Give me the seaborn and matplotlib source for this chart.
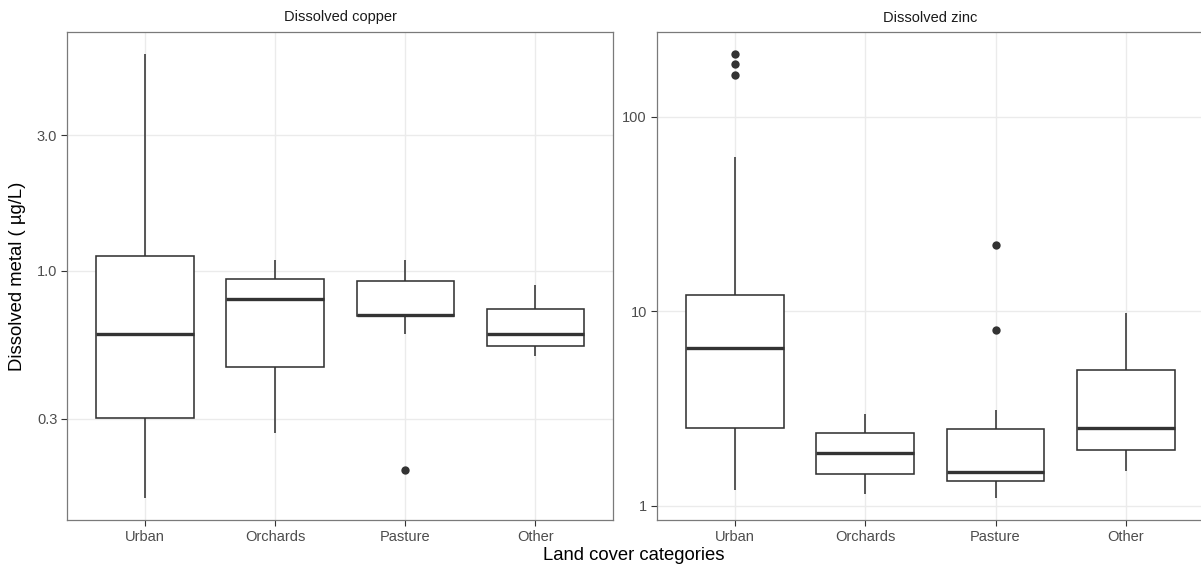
import numpy as np
import pandas as pd
import matplotlib
matplotlib.use("Agg")
import matplotlib.pyplot as plt
import seaborn as sns

# ---- data ----
categories = ["Urban", "Orchards", "Pasture", "Other"]

# five-number summaries: whisker low, Q1, median, Q3, whisker high
copper_low = [0.158, 0.267, 0.600, 0.498]
copper_q1 = [0.302, 0.459, 0.690, 0.544]
copper_med = [0.600, 0.797, 0.697, 0.598]
copper_q3 = [1.13, 0.935, 0.920, 0.730]
copper_high = [5.80, 1.09, 1.09, 0.893]
copper_out_cat = ["Pasture"]
copper_out_val = [0.198]

zinc_low = [1.20, 1.15, 1.10, 1.51]
zinc_q1 = [2.52, 1.46, 1.35, 1.93]
zinc_med = [6.44, 1.86, 1.50, 2.51]
zinc_q3 = [12.1, 2.37, 2.48, 4.96]
zinc_high = [61.8, 2.98, 3.09, 9.77]
zinc_out_cat = ["Urban", "Urban", "Urban", "Pasture", "Pasture"]
zinc_out_val = [209.0, 186.0, 164.0, 22.0, 8.03]

panel_titles = ["Dissolved copper", "Dissolved zinc"]
copper_ticks = [0.3, 1.0, 3.0]
copper_ticklabels = ["0.3", "1.0", "3.0"]
zinc_ticks = [1, 10, 100]
zinc_ticklabels = ["1", "10", "100"]
x_title = "Land cover categories"
y_title = "Dissolved metal ( \u00b5g/L)"


def long_table(low, q1, med, q3, high):
    rows = []
    for c, a, b, m, d, e in zip(categories, low, q1, med, q3, high):
        for v in (a, b, m, d, e):
            rows.append({"cat": c, "val": v})
    return pd.DataFrame(rows)


copper_df = long_table(copper_low, copper_q1, copper_med, copper_q3, copper_high)
zinc_df = long_table(zinc_low, zinc_q1, zinc_med, zinc_q3, zinc_high)
copper_out = pd.DataFrame({"cat": copper_out_cat, "val": copper_out_val})
zinc_out = pd.DataFrame({"cat": zinc_out_cat, "val": zinc_out_val})

# ---- style ----
sns.set_theme(style="white")
plt.rcParams["font.family"] = ["Liberation Sans", "DejaVu Sans"]

W, H = 1201, 567
fig = plt.figure(figsize=(W / 100, H / 100), dpi=100)

line_col = "#333333"
panels = [
    (copper_df, copper_out, copper_ticks, copper_ticklabels, 67, 613.5),
    (zinc_df, zinc_out, zinc_ticks, zinc_ticklabels, 656.7, 1204),
]
top_px, bot_px = 32, 520

for i, (df, out, ticks, tlabels, x0, x1) in enumerate(panels):
    ax = fig.add_axes([x0 / W, 1 - bot_px / H, (x1 - x0) / W, (bot_px - top_px) / H])
    ax.set_axisbelow(True)
    sns.boxplot(
        data=df, x="cat", y="val", order=categories, ax=ax,
        whis=(0, 100), showfliers=False, width=0.75, log_scale=True,
        color="white", linecolor=line_col, linewidth=1.15,
        boxprops=dict(facecolor="white", edgecolor=line_col, linewidth=1.15),
        whiskerprops=dict(color=line_col, linewidth=1.15),
        capprops=dict(linewidth=0),
        medianprops=dict(color=line_col, linewidth=2.4),
    )
    sns.stripplot(
        data=out, x="cat", y="val", order=categories, ax=ax, jitter=False,
        color=line_col, size=6, linewidth=0, log_scale=True,
    )
    allv = np.log10(np.concatenate([df["val"].values, out["val"].values]))
    lo, hi = allv.min(), allv.max()
    pad = 0.05 * (hi - lo)
    ax.set_ylim(10 ** (lo - pad), 10 ** (hi + pad))
    ax.set_xlim(-0.6, 3.6)
    ax.set_yticks(ticks)
    ax.set_yticklabels(tlabels)
    ax.yaxis.set_minor_locator(matplotlib.ticker.NullLocator())
    ax.set_xlabel("")
    ax.set_ylabel("")
    ax.grid(True, which="major", color="#EBEBEB", linewidth=1.0)
    ax.tick_params(axis="both", which="major", length=4, width=0.8, color=line_col,
                   labelsize=10.5, labelcolor="#4D4D4D", pad=3, left=True, bottom=True)
    for s in ax.spines.values():
        s.set_visible(True)
        s.set_color("#7A7A7A")
        s.set_linewidth(0.9)
    fig.text(((x0 + x1) / 2) / W, 1 - 17.5 / H, panel_titles[i], ha="center", va="center",
             fontsize=10.5, color="#1A1A1A")

fig.text(634 / W, 1 - 556 / H, x_title, ha="center", va="center", fontsize=13.3, color="black")
fig.text(18 / W, 1 - 276 / H, y_title, ha="center", va="center", rotation=90,
         fontsize=13.3, color="black")

fig.savefig("out.png", dpi=100, facecolor="white")
